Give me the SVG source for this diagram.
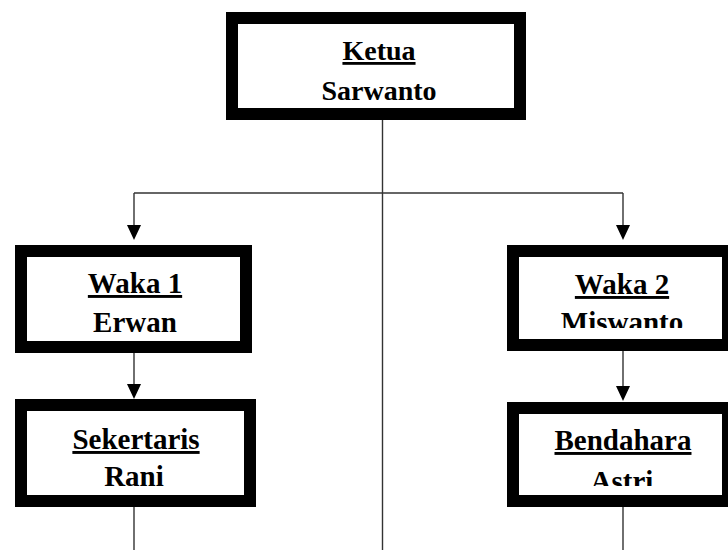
<svg xmlns="http://www.w3.org/2000/svg" width="728" height="550" viewBox="0 0 728 550">
<style>
.box{fill:#fff;stroke:#000;stroke-width:12}
.t{font-family:"Liberation Serif","Times New Roman",serif;font-weight:bold;font-size:29px;fill:#000;text-anchor:middle}
.u{text-decoration:underline}
.c{stroke:#333;stroke-width:1.4;fill:none}
</style>
<defs>
<marker id="ah" markerWidth="14" markerHeight="15" refX="7" refY="15" orient="auto-start-reverse" markerUnits="userSpaceOnUse" viewBox="0 0 14 15">
<path d="M0,0 L14,0 L7,15 Z" fill="#000"/>
</marker>
<clipPath id="cw2"><rect x="519" y="250" width="210" height="78"/></clipPath>
<clipPath id="cb"><rect x="519" y="400" width="210" height="86"/></clipPath>
</defs>
<rect width="728" height="550" fill="#fff"/>
<g id="connectors">
<line class="c" x1="382.5" y1="120" x2="382.5" y2="550"/>
<line class="c" x1="134" y1="193" x2="623" y2="193"/>
<line class="c" x1="134" y1="193" x2="134" y2="225"/>
<path d="M127,225 L141,225 L134,240 Z" fill="#000"/>
<line class="c" x1="623" y1="193" x2="623" y2="225"/>
<path d="M616,225 L630,225 L623,240 Z" fill="#000"/>
<line class="c" x1="134" y1="353" x2="134" y2="384"/>
<path d="M127,384 L141,384 L134,399 Z" fill="#000"/>
<line class="c" x1="623" y1="351" x2="623" y2="386"/>
<path d="M616,386 L630,386 L623,401 Z" fill="#000"/>
<line class="c" x1="134" y1="507" x2="134" y2="550"/>
<line class="c" x1="623" y1="507" x2="623" y2="550"/>
</g>
<g id="ketua">
<rect class="box" x="232" y="18" width="288" height="96"/>
<text class="t u" x="379" y="60" font-size="28" style="font-size:28px">Ketua</text>
<text class="t" x="379" y="100" style="font-size:28px">Sarwanto</text>
</g>
<g id="waka1">
<rect class="box" x="21" y="251" width="225" height="96"/>
<text class="t u" x="135" y="293">Waka 1</text>
<text class="t" x="135" y="332">Erwan</text>
</g>
<g id="waka2">
<rect class="box" x="513" y="251" width="215" height="94"/>
<text class="t u" x="622" y="294">Waka 2</text>
<text class="t" x="622" y="332" clip-path="url(#cw2)">Miswanto</text>
</g>
<g id="sekertaris">
<rect class="box" x="21" y="405" width="229" height="96"/>
<text class="t u" x="136" y="449">Sekertaris</text>
<text class="t" x="134" y="486">Rani</text>
</g>
<g id="bendahara">
<rect class="box" x="513" y="408" width="215" height="93"/>
<text class="t u" x="623" y="450">Bendahara</text>
<text class="t" x="622" y="491" clip-path="url(#cb)">Astri</text>
</g>
</svg>
